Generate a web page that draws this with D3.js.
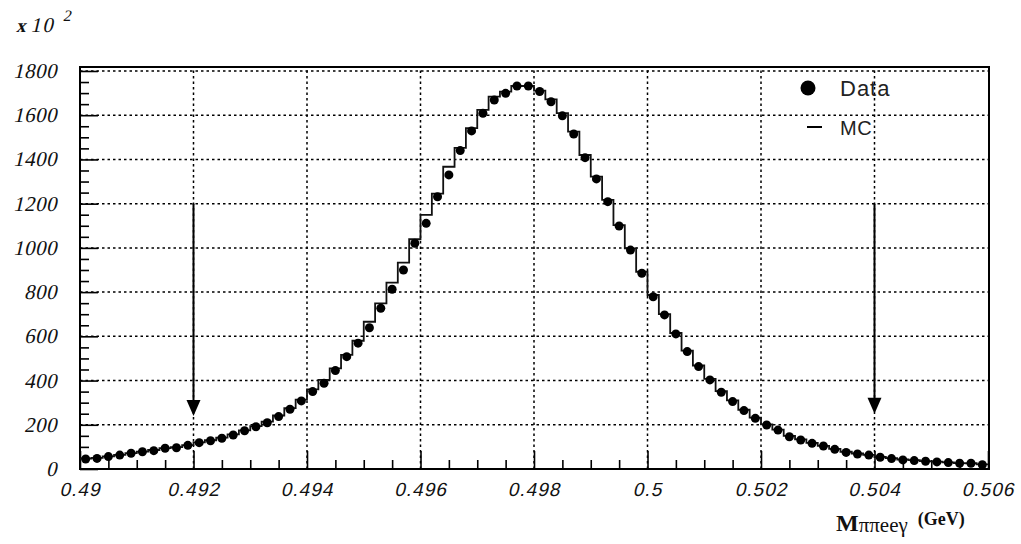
<!DOCTYPE html>
<html>
<head>
<meta charset="utf-8">
<script src="https://cdn.jsdelivr.net/npm/d3@7"></script>
<style>
  html, body { margin: 0; padding: 0; background: #fff; }
  svg { display: block; }
</style>
</head>
<body>
<svg id="chart" width="1021" height="544"></svg>
<script>
// Bin layout: 80 bins of 0.2 MeV from 0.490 to 0.506 GeV
const binLow = 0.490;
const binWidth = 0.0002;

// Measured events per bin (units of 10^2)
const dataCounts = [
  45, 48, 56, 63, 71, 78, 83, 94, 96, 107,
  119, 128, 139, 154, 173, 191, 209, 237, 270, 308,
  350, 388, 445, 508, 569, 639, 727, 813, 900, 1021,
  1111, 1231, 1330, 1440, 1529, 1609, 1669, 1699, 1732, 1732,
  1707, 1661, 1597, 1515, 1408, 1312, 1209, 1099, 990, 885,
  779, 697, 611, 531, 463, 403, 347, 305, 264, 229,
  199, 176, 146, 131, 116, 104, 89, 75, 68, 63,
  53, 47, 41, 38, 35, 32, 29, 26, 26, 19
];

// Simulated (MC) events per bin (units of 10^2)
const mcCounts = [
  47, 50, 57, 64, 72, 79, 86, 94, 99, 108,
  120, 130, 142, 157, 175, 194, 214, 242, 275, 314,
  360, 403, 455, 516, 580, 666, 749, 843, 933, 1039,
  1149, 1245, 1367, 1452, 1542, 1624, 1684, 1707, 1732, 1732,
  1711, 1672, 1609, 1526, 1420, 1322, 1217, 1103, 998, 892,
  787, 700, 615, 535, 468, 408, 352, 310, 268, 232,
  202, 178, 150, 134, 118, 105, 91, 78, 70, 64,
  55, 49, 43, 40, 36, 33, 30, 27, 26, 21
];

// Axis ticks
const xMajorTicks = [0.490, 0.492, 0.494, 0.496, 0.498, 0.500, 0.502, 0.504, 0.506];
const xTickLabels = ["0.49", "0.492", "0.494", "0.496", "0.498", "0.5", "0.502", "0.504", "0.506"];
const yMajorTicks = [0, 200, 400, 600, 800, 1000, 1200, 1400, 1600, 1800];
const yTickLabels = ["0", "200", "400", "600", "800", "1000", "1200", "1400", "1600", "1800"];

// Selection window markers (arrows)
const cutPositions = [0.492, 0.504];
const cutArrowTop = [1200, 1200];
const cutArrowTip = [240, 250];

const svg = d3.select("#chart");
const plotL = 80, plotR = 988, plotT = 67, plotB = 469;
const slant = -13; // oblique angle for axis lettering

const x = d3.scaleLinear().domain([0.490, 0.506]).range([plotL, plotR]);
const y = d3.scaleLinear().domain([0, 1818]).range([plotB, plotT]);

const xMinor = d3.range(0, 33).map(i => 0.490 + i * 0.0005)
  .filter(v => !xMajorTicks.some(m => Math.abs(m - v) < 1e-9));
const yMinor = d3.range(0, 37).map(i => i * 50).filter(v => v % 200 !== 0);

// Grid
const grid = svg.append("g").attr("stroke", "#000").attr("stroke-width", 1.5)
  .attr("stroke-dasharray", "2.5,3");
xMajorTicks.slice(1, -1).forEach(v => {
  grid.append("line").attr("x1", x(v)).attr("x2", x(v)).attr("y1", plotB).attr("y2", plotT);
});
yMajorTicks.slice(1).forEach(v => {
  grid.append("line").attr("x1", plotL).attr("x2", plotR).attr("y1", y(v)).attr("y2", y(v));
});

// Axes with inward ticks
function styleAxis(g) {
  g.select(".domain").remove();
  g.selectAll("line").attr("stroke", "#000").attr("stroke-width", 1.6);
}
svg.append("g").attr("transform", `translate(0,${plotB})`)
  .call(d3.axisBottom(x).tickValues(xMajorTicks).tickSize(-18).tickFormat(""))
  .call(styleAxis);
svg.append("g").attr("transform", `translate(0,${plotB})`)
  .call(d3.axisBottom(x).tickValues(xMinor).tickSize(-9).tickFormat(""))
  .call(styleAxis);
svg.append("g").attr("transform", `translate(${plotL},0)`)
  .call(d3.axisLeft(y).tickValues(yMajorTicks).tickSize(-18).tickFormat(""))
  .call(styleAxis);
svg.append("g").attr("transform", `translate(${plotL},0)`)
  .call(d3.axisLeft(y).tickValues(yMinor).tickSize(-9).tickFormat(""))
  .call(styleAxis);

// Tick labels (slanted)
svg.append("g").selectAll("text").data(xMajorTicks).join("text")
  .attr("transform", d => `translate(${x(d)},496) skewX(${slant})`)
  .attr("text-anchor", "middle")
  .attr("font-family", "Liberation Sans")
  .attr("font-size", 19).attr("letter-spacing", 1).attr("fill", "#111")
  .text((d, i) => xTickLabels[i]);
svg.append("g").selectAll("text").data(yMajorTicks).join("text")
  .attr("transform", d => `translate(57,${y(d) + 7}) skewX(${slant})`)
  .attr("text-anchor", "end")
  .attr("font-family", "Liberation Serif")
  .attr("font-size", 21).attr("letter-spacing", 0.5).attr("fill", "#111")
  .text((d, i) => yTickLabels[i]);

// Frame
svg.append("rect").attr("x", plotL).attr("y", plotT)
  .attr("width", 989 - plotL).attr("height", plotB - plotT)
  .attr("fill", "none").attr("stroke", "#000").attr("stroke-width", 2);

// MC histogram as a step line
const bins = d3.range(dataCounts.length).map(i => ({
  lo: binLow + i * binWidth,
  hi: binLow + (i + 1) * binWidth,
  mid: binLow + (i + 0.5) * binWidth,
  data: dataCounts[i],
  mc: mcCounts[i]
}));
const stepPts = [];
bins.forEach(b => { stepPts.push([b.lo, b.mc]); stepPts.push([b.hi, b.mc]); });
svg.append("path")
  .attr("d", d3.line().x(d => x(d[0])).y(d => y(d[1]))(stepPts))
  .attr("fill", "none").attr("stroke", "#111").attr("stroke-width", 1.8);

// Data points
svg.append("g").selectAll("circle").data(bins).join("circle")
  .attr("cx", d => x(d.mid)).attr("cy", d => y(d.data))
  .attr("r", 4.5).attr("fill", "#000");

// Cut arrows
cutPositions.forEach((c, i) => {
  const tipY = y(cutArrowTip[i]);
  svg.append("line").attr("x1", x(c)).attr("x2", x(c))
    .attr("y1", y(cutArrowTop[i])).attr("y2", tipY - 8)
    .attr("stroke", "#000").attr("stroke-width", 2);
  svg.append("path")
    .attr("d", `M${x(c) - 7},${tipY - 16} L${x(c) + 7},${tipY - 16} L${x(c)},${tipY} Z`)
    .attr("fill", "#000");
});

// Legend
svg.append("circle").attr("cx", 808).attr("cy", 88).attr("r", 7.5).attr("fill", "#000");
svg.append("text").attr("x", 840).attr("y", 96)
  .attr("font-family", "Liberation Sans").attr("font-size", 22).attr("letter-spacing", 1)
  .attr("fill", "#222").text("Data");
svg.append("line").attr("x1", 807).attr("x2", 822).attr("y1", 127).attr("y2", 127)
  .attr("stroke", "#000").attr("stroke-width", 2);
svg.append("text").attr("x", 840).attr("y", 135)
  .attr("font-family", "Liberation Sans").attr("font-size", 20).attr("letter-spacing", 0.5)
  .attr("fill", "#222").text("MC");

// Scale factor label
const sf = svg.append("text").attr("transform", `translate(16,32) skewX(${slant})`)
  .attr("font-family", "Liberation Serif").attr("fill", "#111");
sf.append("tspan").attr("font-weight", "bold").attr("font-size", 19).text("x ");
sf.append("tspan").attr("font-size", 21).attr("letter-spacing", 1.5).text("10");
sf.append("tspan").attr("font-size", 16).attr("dx", 6).attr("dy", -11).text("2");

// X axis title
const xt = svg.append("text").attr("x", 836).attr("y", 531)
  .attr("font-family", "Liberation Serif").attr("fill", "#111");
xt.append("tspan").attr("font-weight", "bold").attr("font-size", 24).text("M");
xt.append("tspan").attr("font-size", 21).attr("dy", 1).text("ππeeγ");
xt.append("tspan").attr("font-weight", "bold").attr("font-size", 18).attr("dx", 10).attr("dy", -7).text("(GeV)");
</script>
</body>
</html>
